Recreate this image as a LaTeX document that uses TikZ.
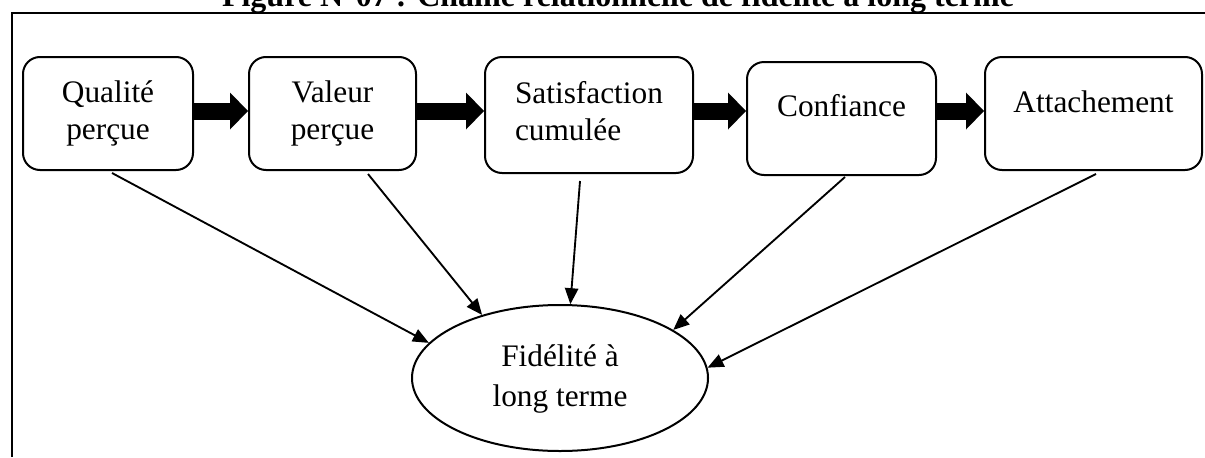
\documentclass[tikz,border=0pt]{standalone}
\usepackage{fontspec}
\setmainfont{Liberation Serif}
\usetikzlibrary{arrows.meta,calc,shapes.geometric}
\begin{document}
\begin{tikzpicture}[x=0.75pt,y=-0.75pt,
  box/.style={draw, line width=1.5pt, rounded corners=12.75pt, align=center,
    inner sep=0pt, font=\fontsize{23.5}{27.75}\selectfont},
  flow/.style={line width=12.75pt,
    -{Triangle[length=13.5pt,width=27.75pt,line width=0pt]}},
  link/.style={line width=1.4pt, -{Triangle[length=12pt,width=10pt]}},
  goal/.style={ellipse, draw, line width=1.5pt, inner sep=0pt, align=center,
    font=\fontsize{23.5}{30}\selectfont,
    minimum width=222pt, minimum height=109.5pt}]
\clip (0,0) rectangle (1205,457);

% heading, cut by the upper edge
\node[anchor=base, font=\fontsize{24}{28}\selectfont\bfseries] (title) at (618,6)
  {Figure N°07 : Chaîne relationnelle de fidélité à long terme};

% frame
\draw[line width=1.6pt] (12,457) -- (12,13) -- (1205,13);

% chain of steps
\node[box, minimum width=127.5pt, minimum height=84.75pt] (q) at (108,113.5)
  {\strut Qualité\\\strut perçue};
\node[box, minimum width=125.25pt, minimum height=84.75pt] (v) at (332.5,113.5)
  {\strut Valeur\\\strut perçue};
\node[box, align=left, minimum width=156pt, minimum height=87pt] (s) at (589,115)
  {\strut Satisfaction\\\strut cumulée};
\node[box, minimum width=141.75pt, minimum height=84.75pt,
  text height=19.4pt, text depth=21.75pt] (c) at (841.5,118.5) {Confiance};
\node[box, minimum width=162.75pt, minimum height=84.75pt,
  text height=19.4pt, text depth=20.25pt] (a) at (1093.5,113.5) {Attachement};

% outcome
\node[goal] (f) at (560,378) {\strut Fidélité à\\\strut long terme};

% thick arrows along the chain
\coordinate (row) at (0,111);
\draw[flow] (q.east |- row) -- (v.west |- row);
\draw[flow] (v.east |- row) -- (s.west |- row);
\draw[flow] (s.east |- row) -- (c.west |- row);
\draw[flow] (c.east |- row) -- (a.west |- row);

% each step feeds long-term loyalty
\draw[link] ($(q.south)+(4,2)$) -- (f.165);
\draw[link] ($(v.south)+(35.5,3)$) -- (f.141.5);
\draw[link] ($(s.south)+(-9,7)$) -- (f.82);
\draw[link] ($(c.south)+(3.5,1)$) -- (f.23);
\draw[link] ($(a.south)+(2.5,3)$) -- (f.4);
\end{tikzpicture}
\end{document}
